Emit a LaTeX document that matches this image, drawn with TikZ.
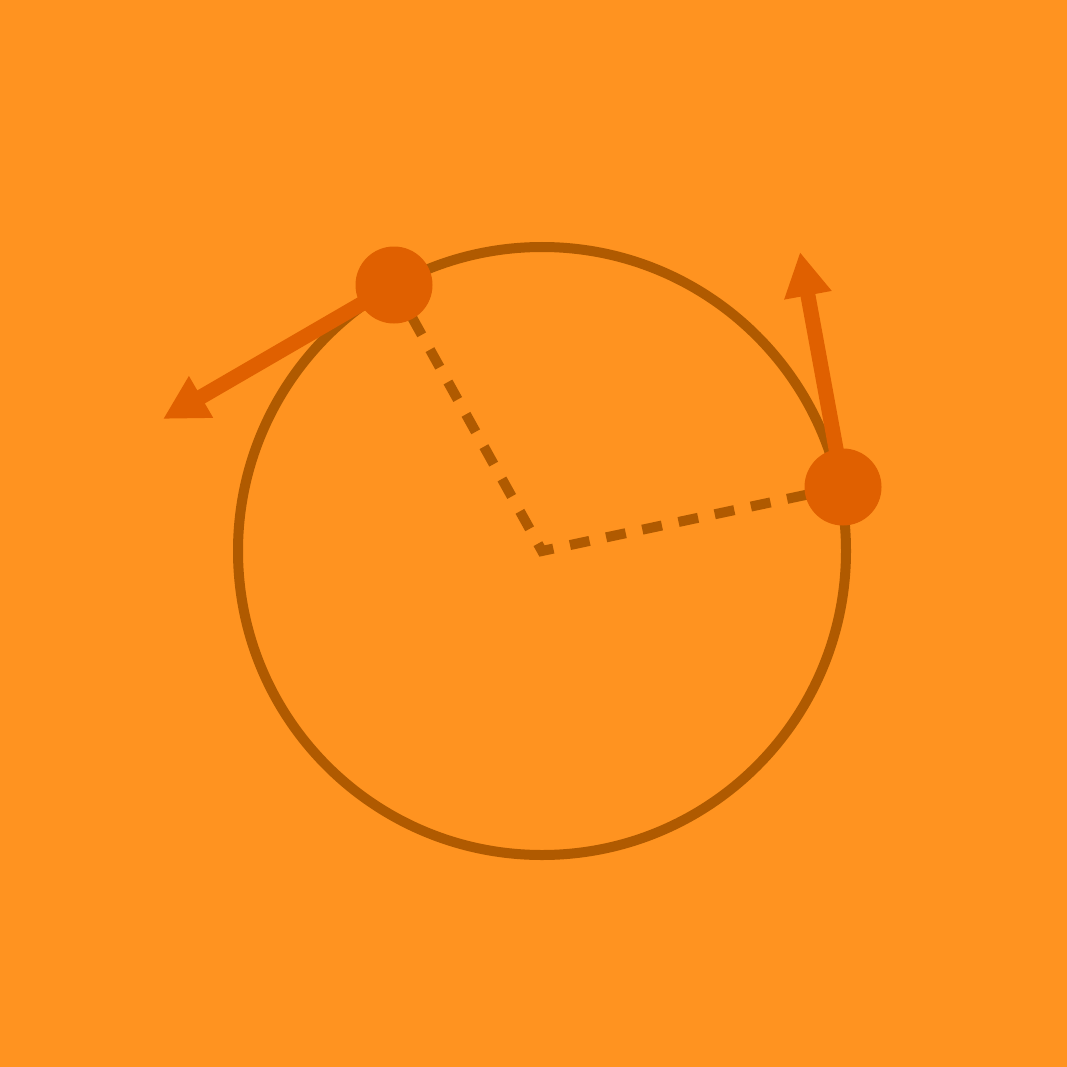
\documentclass[tikz,border=0pt]{standalone}
\usetikzlibrary{arrows.meta}
\definecolor{bg}{HTML}{FF9320}
\definecolor{dotc}{HTML}{E06000}
\definecolor{ringc}{HTML}{B05A00}
\tikzset{
  dotnode/.style={circle, fill=dotc, minimum size=77pt, inner sep=0pt},
  ring/.style={draw=ringc, line width=10pt},
  radius line/.style={draw=ringc, line width=10pt, dash pattern=on 20pt off 17pt},
  velarrow/.style={draw=dotc, line width=15pt, -{Triangle[length=44pt, width=45pt]}}
}
\begin{document}
\begin{tikzpicture}[x=1pt, y=-1pt]
\fill[bg] (0,0) rectangle (1067,1067);
\useasboundingbox (0,0) rectangle (1067,1067);
\coordinate (O) at (542,551);
\draw[ring] (O) circle[radius=304];
\coordinate (Ac) at (394,285);
\coordinate (Bc) at (843,487);
\draw[radius line] (Ac) -- (O) -- (Bc);
\coordinate (tipA) at (163,419);
\coordinate (tipB) at (800,252);
\draw[velarrow] (Ac) -- (tipA);
\draw[velarrow] (Bc) -- (tipB);
\node[dotnode] (A) at (Ac) {};
\node[dotnode] (B) at (Bc) {};
\end{tikzpicture}
\end{document}
